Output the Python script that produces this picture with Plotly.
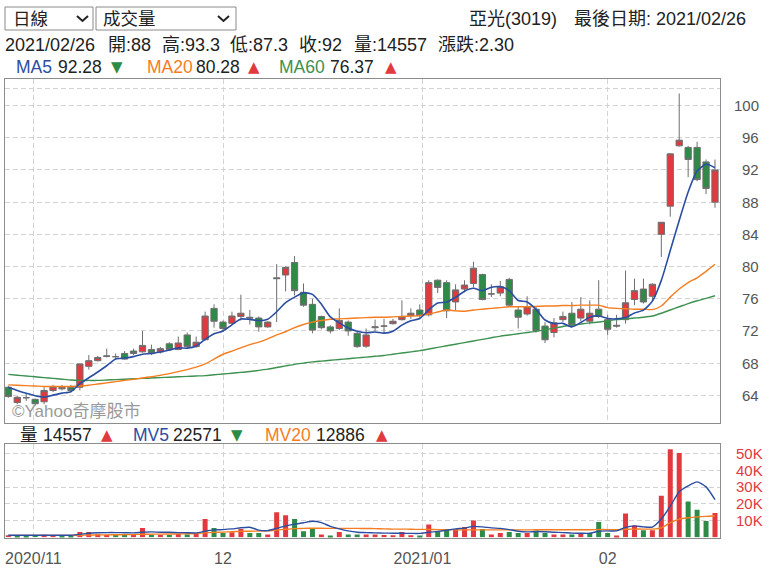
import plotly.graph_objects as go

# ---------------- data ----------------
stock_name = "亞光(3019)"
last_date = "2021/02/26"

opens = [65.0, 63.1, 63.7, 63.5, 63.2, 64.6, 64.8, 65.0, 65.0, 67.6,
         68.3, 68.9, 68.8, 69.2, 69.5, 69.4, 69.7, 69.4, 70.4, 69.7,
         71.5, 70.05, 70.9, 74.8, 73.1, 72.95, 73.8, 73.7, 73.6, 72.5,
         78.6, 78.95, 80.5, 76.8, 75.3, 73.8, 72.5, 72.3, 73.1, 71.7,
         70.1, 72.4, 72.6, 72.9, 73.4, 73.9, 74.6, 74.0, 78.3, 78.0,
         75.6, 77.2, 77.9, 79.0, 76.6, 76.7, 78.4, 74.6, 74.1, 74.7,
         72.6, 71.8, 73.4, 74.2, 73.6, 73.2, 74.7, 73.4, 72.7, 73.4,
         75.9, 77.2, 76.3, 84.0, 87.5, 95.0, 94.8, 94.8, 93.0, 88.0]
highs = [65.2, 63.9, 64.2, 63.6, 65.0, 65.3, 65.3, 65.3, 67.9, 69.0,
         68.9, 69.8, 69.2, 69.5, 69.8, 72.0, 70.3, 70.0, 70.6, 71.3,
         71.8, 71.3, 74.4, 75.3, 73.3, 74.4, 76.5, 74.6, 73.8, 73.2,
         80.3, 80.0, 81.3, 77.9, 76.0, 73.9, 72.7, 74.8, 73.3, 71.9,
         72.3, 73.4, 73.5, 73.5, 75.8, 74.8, 75.3, 78.3, 78.4, 78.3,
         77.8, 78.3, 80.6, 79.1, 77.8, 78.2, 78.6, 75.1, 76.3, 75.0,
         73.1, 73.6, 74.4, 75.6, 76.2, 75.8, 78.3, 74.0, 74.0, 79.5,
         78.5, 78.5, 77.9, 85.5, 94.05, 101.5, 95.0, 95.5, 93.3, 93.3]
lows = [63.7, 62.9, 63.3, 62.7, 62.9, 64.4, 64.6, 64.4, 64.6, 67.2,
        68.2, 68.7, 68.5, 68.4, 69.0, 69.3, 69.0, 69.2, 69.5, 69.6,
        69.9, 69.9, 70.8, 72.4, 71.9, 72.8, 73.3, 72.8, 71.9, 72.4,
        73.1, 76.9, 76.4, 75.0, 71.7, 72.2, 71.7, 72.1, 71.4, 69.9,
        69.9, 72.0, 71.7, 72.8, 73.3, 73.5, 73.6, 73.8, 76.7, 73.6,
        74.5, 76.8, 77.4, 75.8, 76.2, 76.3, 75.0, 72.3, 73.9, 71.8,
        70.5, 71.2, 73.1, 72.6, 73.2, 72.8, 73.6, 71.5, 72.4, 72.9,
        75.2, 75.4, 75.6, 81.2, 86.2, 94.9, 91.1, 90.6, 89.0, 87.3]
closes = [63.85, 63.75, 63.7, 62.95, 64.6, 65.1, 65.0, 64.6, 67.9, 68.3,
          68.7, 68.85, 68.8, 68.5, 69.2, 70.2, 69.25, 69.8, 69.7, 70.5,
          70.05, 70.6, 73.85, 73.2, 72.3, 73.85, 74.2, 73.6, 72.5, 73.1,
          78.5, 79.9, 77.0, 75.2, 72.1, 72.4, 72.0, 73.3, 72.0, 70.05,
          71.5, 72.5, 72.6, 73.2, 73.8, 74.2, 73.9, 78.0, 77.4, 74.5,
          77.1, 77.7, 79.8, 75.9, 76.6, 77.5, 75.2, 73.7, 75.0, 72.0,
          70.9, 73.0, 73.8, 72.8, 74.7, 74.2, 73.8, 72.2, 72.6, 75.5,
          77.0, 75.6, 77.8, 85.5, 94.0, 95.7, 93.3, 90.8, 89.7, 92.0]
ma5 = [65.0, 64.6, 64.25, 63.95, 63.77, 64.02, 64.27, 64.45, 65.44, 66.18,
       66.9, 67.67, 68.51, 68.63, 68.81, 69.11, 69.19, 69.39, 69.63, 69.89,
       69.86, 70.13, 70.94, 71.64, 72.0, 72.76, 73.48, 73.43, 73.29, 73.45,
       74.38, 75.52, 76.2, 76.74, 76.54, 75.32, 73.74, 73.0, 72.36, 71.95,
       71.77, 71.87, 71.73, 71.97, 72.72, 73.26, 73.54, 74.62, 75.46, 75.6,
       76.18, 76.94, 77.3, 77.0, 77.42, 77.5, 77.0, 75.78, 75.6, 74.68,
       73.36, 72.92, 72.94, 72.5, 73.04, 73.7, 73.86, 73.54, 73.5, 73.66,
       74.22, 74.58, 75.7, 78.28, 81.98, 85.72, 89.26, 91.86, 92.7, 92.28]
ma20 = [65.3, 65.25, 65.2, 65.15, 65.1, 65.1, 65.1, 65.1, 65.15, 65.25,
        65.4, 65.55, 65.7, 65.85, 66.0, 66.15, 66.3, 66.5, 66.7, 66.95,
        67.2, 67.5, 67.9, 68.5, 69.1, 69.5, 69.9, 70.3, 70.6, 71.0,
        71.5, 71.9, 72.4, 72.8, 73.1, 73.3, 73.45, 73.5, 73.55, 73.6,
        73.65, 73.7, 73.7, 73.75, 73.8, 73.85, 73.9, 74.1, 74.35, 74.6,
        74.5, 74.45, 74.6, 74.7, 74.8, 74.9, 75.0, 75.0, 75.0, 75.05,
        75.1, 75.1, 75.15, 75.15, 75.2, 75.2, 75.2, 74.9, 74.8, 74.75,
        74.7, 74.7, 74.65, 75.1, 76.2, 77.2, 78.0, 78.6, 79.4, 80.28]
ma60 = [66.6, 66.5, 66.4, 66.3, 66.2, 66.1, 66.0, 65.9, 65.85, 65.85,
        65.85, 65.9, 65.95, 66.0, 66.05, 66.1, 66.15, 66.2, 66.25, 66.3,
        66.35, 66.4, 66.45, 66.55, 66.65, 66.75, 66.85, 66.95, 67.1, 67.25,
        67.45, 67.65, 67.85, 68.0, 68.15, 68.25, 68.35, 68.45, 68.55, 68.65,
        68.75, 68.85, 68.95, 69.1, 69.25, 69.4, 69.55, 69.75, 69.95, 70.15,
        70.35, 70.55, 70.75, 70.95, 71.15, 71.35, 71.5, 71.65, 71.8, 71.95,
        72.15, 72.35, 72.55, 72.7, 72.85, 73.0, 73.1, 73.25, 73.4, 73.5,
        73.6, 73.7, 73.85, 74.2, 74.6, 75.0, 75.4, 75.75, 76.05, 76.37]
volumes = [1200, 1000, 900, 1300, 1500, 1200, 1000, 1100, 3200, 3200,
           1800, 1500, 1300, 2000, 1400, 5600, 1500, 1400, 1300, 2000,
           1600, 2000, 11000, 5600, 2600, 3000, 5000, 2600, 2600, 1600,
           15000, 13200, 11000, 3600, 5200, 1600, 1000, 3200, 1600, 1600,
           1600, 1600, 1400, 1200, 3200, 1200, 1100, 7600, 3600, 5000,
           5000, 6200, 10000, 5000, 1600, 2600, 3200, 2600, 2600, 4000,
           2600, 1600, 1600, 1600, 2600, 2600, 9200, 2600, 1000, 14200,
           7000, 4200, 4200, 24900, 52800, 50500, 21500, 16500, 9800, 14557]
mv5 = [1200, 1200, 1200, 1200, 1200, 1200, 1200, 1200, 1700, 2400,
       2700, 2800, 2800, 2700, 2600, 3000, 3200, 3000, 3000, 2800,
       2700, 2600, 3600, 4400, 4600, 5000, 5700, 6000, 4300, 4000,
       5300, 6800, 7800, 8700, 9600, 8800, 6500, 5000, 3800, 3000,
       2800, 2600, 2500, 2400, 2400, 2300, 2300, 3000, 3500, 4200,
       5000, 5500, 6500, 6200, 5600, 5300, 4600, 3600, 3200, 3400,
       3300, 3000, 2800, 2500, 2400, 2400, 3600, 3800, 3800, 5900,
       6800, 6200, 6100, 10900, 18600, 27300, 30800, 33200, 30200, 22571]
mv20 = [1100, 1100, 1100, 1100, 1100, 1100, 1100, 1100, 1200, 1300,
        1400, 1450, 1500, 1550, 1600, 1800, 1850, 1900, 1950, 2000,
        2100, 2200, 2600, 2900, 3100, 3300, 3500, 3600, 3700, 3800,
        4300, 4800, 5200, 5300, 5400, 5400, 5300, 5300, 5300, 5300,
        5250, 5200, 5000, 4900, 4900, 4800, 4700, 4700, 4600, 4600,
        4500, 4400, 4400, 4400, 4400, 4400, 4400, 4400, 4400, 4500,
        4500, 4500, 4500, 4500, 4500, 4500, 4600, 4600, 4500, 4800,
        4900, 4900, 4900, 5600, 8800, 10900, 11700, 12200, 12500, 12886]
month_labels = ["2020/11", "12", "2021/01", "02"]
price_tick_values = [64, 68, 72, 76, 80, 84, 88, 92, 96, 100]
vol_tick_values = [10000, 20000, 30000, 40000, 50000]
vol_tick_labels = ["10K", "20K", "30K", "40K", "50K"]

# ---------------- layout helpers ----------------
W, H = 770, 572
FONT = "Liberation Sans, Arial, Noto Sans CJK TC, sans-serif"
TRI_FONT = "DejaVu Sans, sans-serif"
RED = "#e2393f"
GREEN = "#2e8b47"
BLUE = "#2b4ea2"
ORANGE = "#f57d1f"
MAGREEN = "#3d9150"
GRID = "#d3d3d3"
TXT = "#222222"
TICK = "#555555"


def fx(p):
    return p / W


def fy(p):
    return 1 - p / H


n = len(closes)
idx = list(range(n))
month_pos = [2.8, 24.0, 46.3, 67.0]          # x positions of month gridlines (layout)
x_range = [-0.37, 79.56]
grid_extra = 102.14                           # top unlabeled dashed gridline

fig = go.Figure()

fig.add_trace(go.Candlestick(
    x=idx, open=opens, high=highs, low=lows, close=closes,
    increasing=dict(fillcolor=RED, line=dict(color="#6e6e6e", width=1)),
    decreasing=dict(fillcolor=GREEN, line=dict(color="#6e6e6e", width=1)),
    whiskerwidth=0, xaxis="x", yaxis="y", hoverinfo="skip"))

for vals, col, w in [(ma60, MAGREEN, 1.4), (ma20, ORANGE, 1.4), (ma5, BLUE, 1.6)]:
    fig.add_trace(go.Scatter(x=idx, y=vals, mode="lines",
                             line=dict(color=col, width=w, shape="spline", smoothing=0.6),
                             xaxis="x", yaxis="y", hoverinfo="skip"))

vol_colors = [RED if i == 0 or closes[i] >= closes[i - 1] else GREEN for i in idx]
fig.add_trace(go.Bar(x=idx, y=volumes, marker=dict(color=vol_colors, line=dict(width=0)),
                     xaxis="x2", yaxis="y2", hoverinfo="skip"))
for vals, col in [(mv20, ORANGE), (mv5, BLUE)]:
    fig.add_trace(go.Scatter(x=idx, y=vals, mode="lines",
                             line=dict(color=col, width=1.4, shape="spline", smoothing=0.6),
                             xaxis="x2", yaxis="y2", hoverinfo="skip"))

ann = []


def text(x, y, s, size, color, family=FONT, anchor="left"):
    ann.append(dict(x=fx(x), y=fy(y), xref="paper", yref="paper", text=s, showarrow=False,
                    xanchor=anchor, yanchor="middle", borderpad=0,
                    font=dict(size=size, color=color, family=family)))


def tri(x, y, up):
    text(x, y, "▲" if up else "▼", 15, RED if up else GREEN, family=TRI_FONT)


def num(v):
    return f"{v:g}"


# dropdowns
text(12, 19, "日線", 17.5, TXT)
text(102, 19, "成交量", 17.5, TXT)
# header right
text(468, 19, stock_name, 18, TXT)
text(573, 19, f"最後日期: {last_date}", 18, TXT)
# OHLC line
change = closes[-1] - closes[-2]
text(4, 45, last_date, 18, TXT)
text(107, 45, f"開:{num(opens[-1])}", 18, TXT)
text(161, 45, f"高:{num(highs[-1])}", 18, TXT)
text(229, 45, f"低:{num(lows[-1])}", 18, TXT)
text(298, 45, f"收:{num(closes[-1])}", 18, TXT)
text(353, 45, f"量:{volumes[-1]}", 18, TXT)
text(437, 45, f"漲跌:{change:.2f}", 18, TXT)
# MA legend
text(15, 67, "MA5", 17.5, BLUE)
text(57, 67, f"{ma5[-1]:.2f}", 17.5, TXT)
tri(110, 67, ma5[-1] >= ma5[-2])
text(146, 67, "MA20", 17.5, ORANGE)
text(195, 67, f"{ma20[-1]:.2f}", 17.5, TXT)
tri(247, 67, ma20[-1] >= ma20[-2])
text(278, 67, "MA60", 17.5, MAGREEN)
text(329, 67, f"{ma60[-1]:.2f}", 17.5, TXT)
tri(384, 67, ma60[-1] >= ma60[-2])
# volume legend
text(19, 435, "量", 17.5, TXT)
text(42, 435, f"{volumes[-1]}", 17.5, TXT)
tri(100, 435, volumes[-1] >= volumes[-2])
text(132, 435, "MV5", 17.5, BLUE)
text(172, 435, f"{mv5[-1]}", 17.5, TXT)
tri(230, 435, mv5[-1] >= mv5[-2])
text(264, 435, "MV20", 17.5, ORANGE)
text(315, 435, f"{mv20[-1]}", 17.5, TXT)
tri(375, 435, mv20[-1] >= mv20[-2])
# watermark
text(11, 411, "©Yahoo奇摩股市", 17, "#9a9a9a")
# price tick labels (right aligned)
for v in price_tick_values:
    ann.append(dict(x=fx(760), y=v, xref="paper", yref="y", text=str(v), showarrow=False,
                    xanchor="right", yanchor="middle", borderpad=0,
                    font=dict(size=15, color=TICK, family=FONT)))

shapes = []
for x0, x1 in [(5, 93), (96, 236)]:
    shapes.append(dict(type="rect", xref="paper", yref="paper", x0=fx(x0), x1=fx(x1),
                       y0=fy(30), y1=fy(7), line=dict(color="#8a8a8a", width=1)))
for cx in [82.5, 223.5]:
    shapes.append(dict(type="path", xref="paper", yref="paper",
                       path=f"M {fx(cx-5.5)} {fy(16)} L {fx(cx)} {fy(21)} L {fx(cx+5.5)} {fy(16)}",
                       line=dict(color="#222", width=2)))

axis_common = dict(showline=True, mirror=True, linecolor="#8c8c8c", linewidth=1,
                   zeroline=False, gridcolor=GRID, griddash="5px,3px", gridwidth=1)

fig.update_layout(
    width=W, height=H, autosize=False, margin=dict(l=0, r=0, t=0, b=0),
    paper_bgcolor="white", plot_bgcolor="white", showlegend=False,
    bargap=0.44, boxgap=0.0, boxgroupgap=0.3,
    annotations=ann, shapes=shapes,
    xaxis=dict(domain=[fx(5), fx(720)], range=x_range, anchor="y",
               tickvals=month_pos, showticklabels=False, ticks="",
               showgrid=True, rangeslider=dict(visible=False), **axis_common),
    yaxis=dict(domain=[fy(423), fy(79)], range=[60.56, 103.3], side="right", anchor="x",
               tickvals=price_tick_values + [grid_extra], showticklabels=False, ticks="",
               showgrid=True, **axis_common),
    xaxis2=dict(domain=[fx(5), fx(720)], range=x_range, anchor="y2",
                tickvals=month_pos, ticktext=month_labels, showticklabels=True,
                ticks="outside", ticklen=6, tickcolor="rgba(0,0,0,0)",
                tickfont=dict(size=16, color=TICK, family=FONT),
                showgrid=True, **axis_common),
    yaxis2=dict(domain=[fy(537.5), fy(444)], range=[-150, 55900], side="right", anchor="x2",
                tickvals=vol_tick_values, ticktext=vol_tick_labels,
                ticks="outside", ticklen=12, tickcolor="rgba(0,0,0,0)",
                tickfont=dict(size=15, color=RED, family=FONT),
                showgrid=True, **axis_common),
)

fig.write_html("out.html")
